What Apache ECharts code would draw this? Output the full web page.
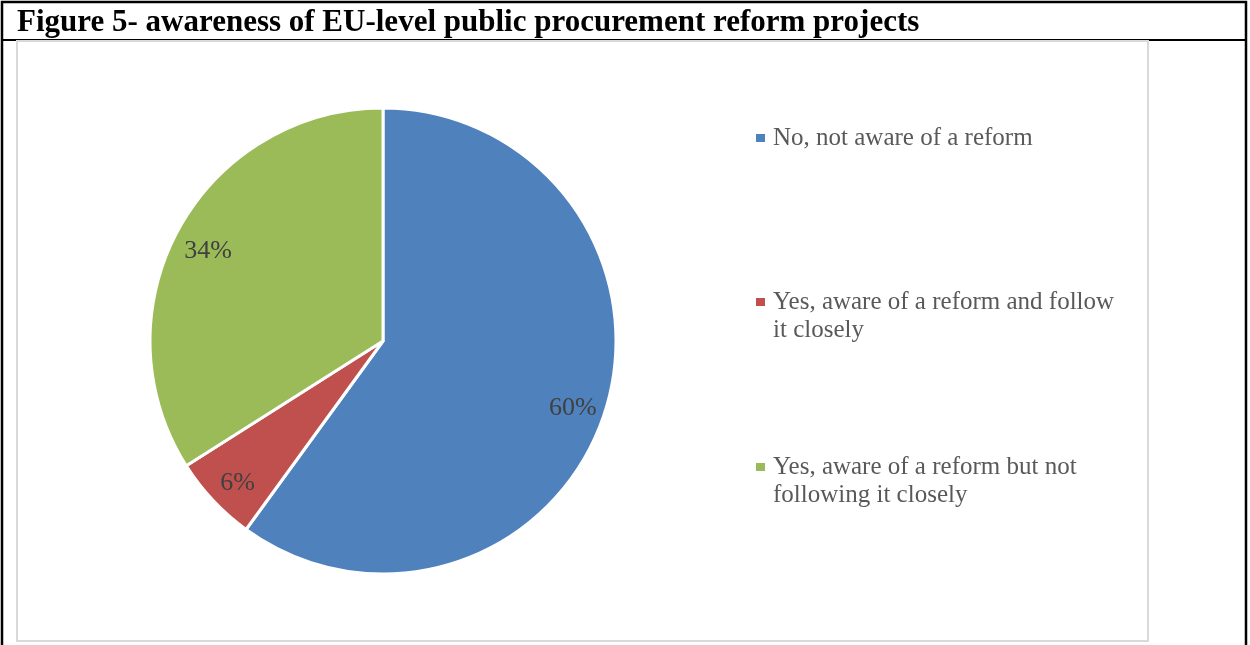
<!DOCTYPE html>
<html>
<head>
<meta charset="utf-8">
<script src="https://cdn.jsdelivr.net/npm/echarts@6/dist/echarts.min.js"></script>
<style>
  html, body { margin: 0; padding: 0; background: #ffffff; }
  #chart { width: 1250px; height: 645px; }
</style>
</head>
<body>
<div id="chart"></div>
<script>
// Survey answers and their shares (percent)
const categories = [
  'No, not aware of a reform',
  'Yes, aware of a reform and follow it closely',
  'Yes, aware of a reform but not following it closely'
];
const shares = [60, 6, 34];
const colors = ['#4F81BD', '#C0504D', '#9BBB59'];
const titleText = 'Figure 5- awareness of EU-level public procurement reform projects';

const pieData = categories.map((name, i) => ({ name, value: shares[i], itemStyle: { color: colors[i] } }));

const chart = echarts.init(document.getElementById('chart'), null, { renderer: 'canvas' });

const legendText = {
  fontFamily: 'Liberation Serif',
  fontSize: 25,
  color: '#595959',
  lineHeight: 28,
  width: 352,
  overflow: 'break',
  padding: [0, 0, 0, 3]
};

// One legend block per entry so each can sit at its own height.
// Wrapped entries get an empty leading line so the marker lines up with the first text line.
const legends = [
  { idx: 0, top: 124, lead: '' },
  { idx: 1, top: 260, lead: '\n' },
  { idx: 2, top: 425, lead: '\n' }
].map(l => ({
  data: [categories[l.idx]],
  left: 756,
  top: l.top,
  orient: 'vertical',
  padding: 0,
  icon: 'rect',
  itemWidth: 9,
  itemHeight: 8,
  itemStyle: { borderWidth: 0 },
  selectedMode: false,
  formatter: name => l.lead + name,
  textStyle: legendText
}));

chart.setOption({
  animation: false,
  backgroundColor: '#ffffff',
  title: {
    text: titleText,
    left: 17,
    top: 7,
    padding: 0,
    textStyle: {
      fontFamily: 'Liberation Serif',
      fontWeight: 'bold',
      fontSize: 31,
      color: '#000000'
    }
  },
  graphic: [
    // outer frame and rule under the heading
    { type: 'rect', shape: { x: 2, y: 2, width: 1244, height: 660 }, style: { fill: 'none', stroke: '#000000', lineWidth: 2.5 }, silent: true },
    { type: 'line', shape: { x1: 2, y1: 40, x2: 1246, y2: 40 }, style: { stroke: '#000000', lineWidth: 2 }, silent: true },
    // chart area border
    { type: 'rect', shape: { x: 17, y: 41, width: 1131, height: 600 }, style: { fill: 'none', stroke: '#D9D9D9', lineWidth: 2 }, silent: true }
  ],
  legend: legends,
  series: [
    {
      type: 'pie',
      center: [383, 341],
      radius: [0, 233],
      startAngle: 90,
      clockwise: true,
      silent: true,
      label: { show: false },
      labelLine: { show: false },
      itemStyle: { borderColor: '#ffffff', borderWidth: 3 },
      data: pieData
    },
    {
      // transparent ring that carries the percentage labels
      type: 'pie',
      center: [383, 341],
      radius: [160, 233],
      startAngle: 90,
      clockwise: true,
      silent: true,
      itemStyle: { color: 'rgba(0,0,0,0)', borderWidth: 0 },
      label: {
        show: true,
        position: 'inside',
        formatter: p => p.value + '%',
        fontFamily: 'Liberation Serif',
        fontSize: 26,
        color: '#404040'
      },
      labelLayout: { dy: 6 },
      labelLine: { show: false },
      data: categories.map((name, i) => ({ name, value: shares[i] }))
    }
  ]
});
</script>
</body>
</html>
